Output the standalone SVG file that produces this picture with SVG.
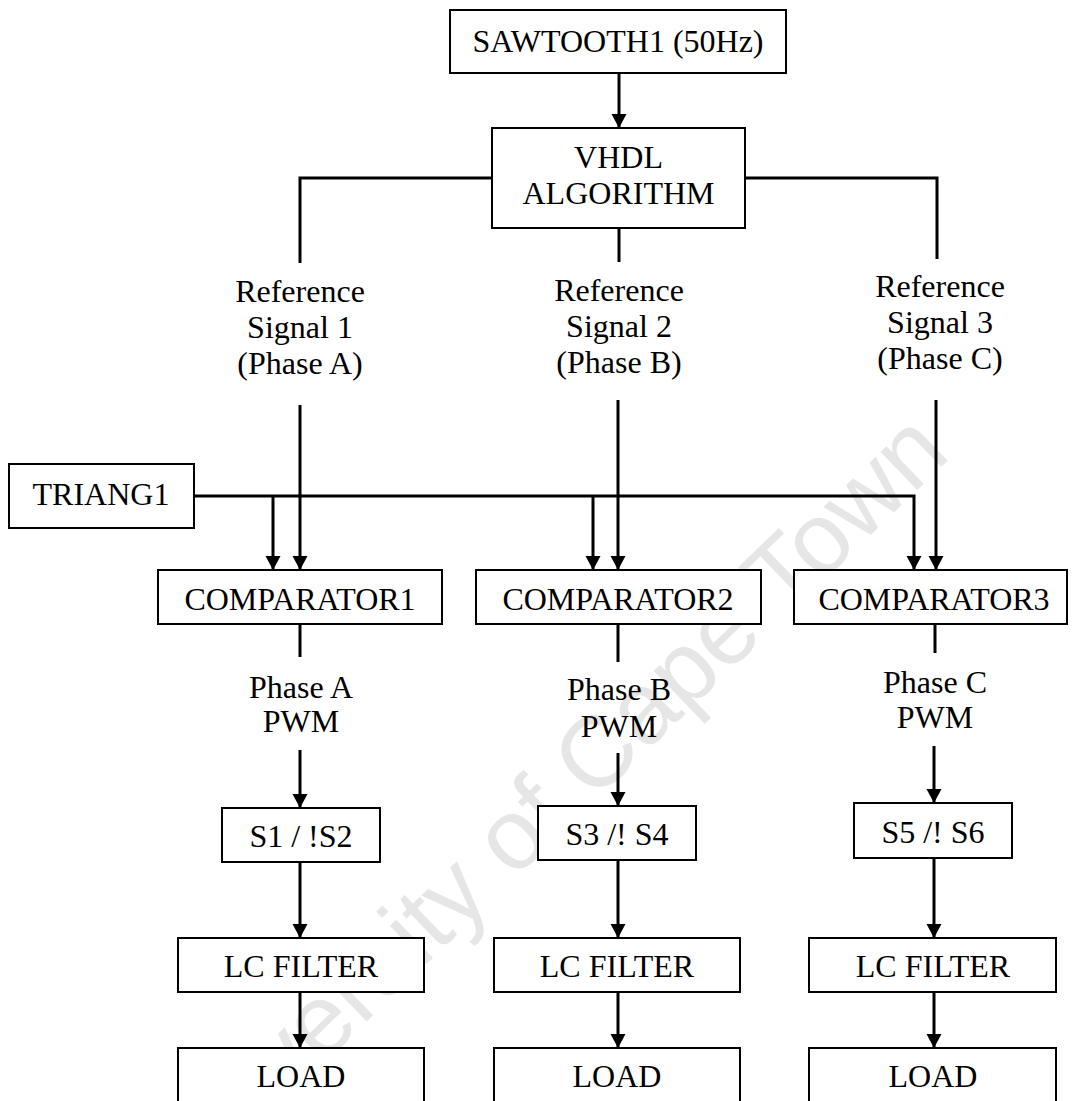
<svg xmlns="http://www.w3.org/2000/svg" width="1072" height="1101" viewBox="0 0 1072 1101">
  <defs>
    <marker id="arr" markerUnits="userSpaceOnUse" markerWidth="16" markerHeight="16" refX="14" refY="7.5" orient="auto">
      <path d="M0,0 L14,7.5 L0,15 z" fill="#000"/>
    </marker>
  </defs>
  <style>
    .box { fill: #fff; stroke: #000; stroke-width: 2; }
    .t { font-family: "Liberation Serif", "Times New Roman", serif; font-size: 32px; fill: #000; text-anchor: middle; }
    .c { fill: none; stroke: #000; stroke-width: 3; }
    .a { marker-end: url(#arr); }
    .wm { font-family: "Liberation Sans", Arial, sans-serif; font-size: 100px; fill: #e6e6e6; text-anchor: middle; }
  </style>
  <rect width="1072" height="1101" fill="#fff"/>
  <text class="wm" transform="translate(565,830) rotate(-44)">University of Cape Town</text>

  <g id="connectors">
    <path class="c a" d="M619,73 V128"/>
    <path class="c" d="M492,178 H300 V263"/>
    <path class="c" d="M745,178 H937 V259"/>
    <path class="c" d="M619,228 V262"/>
    <path class="c a" d="M300,405 V570"/>
    <path class="c a" d="M618,400 V570"/>
    <path class="c a" d="M936,400 V570"/>
    <path class="c a" d="M194,496 H914 V570"/>
    <path class="c a" d="M273,496 V570"/>
    <path class="c a" d="M593,496 V570"/>
    <path class="c" d="M300,624 V657"/>
    <path class="c a" d="M300,750 V808"/>
    <path class="c a" d="M300,862 V938"/>
    <path class="c a" d="M300,992 V1048"/>
    <path class="c" d="M618,624 V662"/>
    <path class="c a" d="M618,753 V806"/>
    <path class="c a" d="M618,860 V938"/>
    <path class="c a" d="M618,992 V1048"/>
    <path class="c" d="M935,624 V653"/>
    <path class="c a" d="M934,746 V803"/>
    <path class="c a" d="M934,858 V938"/>
    <path class="c a" d="M934,992 V1048"/>
  </g>

  <g id="sawtooth"><rect class="box" x="450" y="10" width="336" height="63"/><text class="t" x="618" y="52">SAWTOOTH1 (50Hz)</text></g>
  <g id="vhdl"><rect class="box" x="492" y="128" width="253" height="100"/><text class="t" x="618.5" y="168">VHDL</text><text class="t" x="618.5" y="204">ALGORITHM</text></g>

  <g id="ref1"><text class="t" x="300" y="302">Reference</text><text class="t" x="300" y="338">Signal 1</text><text class="t" x="300" y="374">(Phase A)</text></g>
  <g id="ref2"><text class="t" x="619" y="301">Reference</text><text class="t" x="619" y="337">Signal 2</text><text class="t" x="619" y="373">(Phase B)</text></g>
  <g id="ref3"><text class="t" x="940" y="297">Reference</text><text class="t" x="940" y="333">Signal 3</text><text class="t" x="940" y="369">(Phase C)</text></g>

  <g id="triang1"><rect class="box" x="9" y="464" width="185" height="64"/><text class="t" x="101" y="505">TRIANG1</text></g>

  <g id="comparator1"><rect class="box" x="158" y="570" width="284" height="54"/><text class="t" x="300" y="610">COMPARATOR1</text></g>
  <g id="comparator2"><rect class="box" x="476" y="570" width="285" height="54"/><text class="t" x="618" y="610">COMPARATOR2</text></g>
  <g id="comparator3"><rect class="box" x="794" y="570" width="273" height="54"/><text class="t" x="934" y="610">COMPARATOR3</text></g>

  <g id="pwmA"><text class="t" x="301" y="698">Phase A</text><text class="t" x="301" y="732">PWM</text></g>
  <g id="pwmB"><text class="t" x="619" y="700">Phase B</text><text class="t" x="619" y="737">PWM</text></g>
  <g id="pwmC"><text class="t" x="935" y="693">Phase C</text><text class="t" x="935" y="728">PWM</text></g>

  <g id="s1"><rect class="box" x="222" y="808" width="158" height="54"/><text class="t" x="301" y="847">S1 / !S2</text></g>
  <g id="s3"><rect class="box" x="538" y="806" width="158" height="54"/><text class="t" x="617" y="845">S3 /! S4</text></g>
  <g id="s5"><rect class="box" x="854" y="803" width="158" height="55"/><text class="t" x="933" y="843">S5 /! S6</text></g>

  <g id="lc1"><rect class="box" x="178" y="938" width="246" height="54"/><text class="t" x="301" y="977">LC FILTER</text></g>
  <g id="lc2"><rect class="box" x="494" y="938" width="246" height="54"/><text class="t" x="617" y="977">LC FILTER</text></g>
  <g id="lc3"><rect class="box" x="809" y="938" width="247" height="54"/><text class="t" x="933" y="977">LC FILTER</text></g>

  <g id="load1"><rect class="box" x="178" y="1048" width="246" height="70"/><text class="t" x="301" y="1087">LOAD</text></g>
  <g id="load2"><rect class="box" x="494" y="1048" width="246" height="70"/><text class="t" x="617" y="1087">LOAD</text></g>
  <g id="load3"><rect class="box" x="809" y="1048" width="247" height="70"/><text class="t" x="933" y="1087">LOAD</text></g>
</svg>
